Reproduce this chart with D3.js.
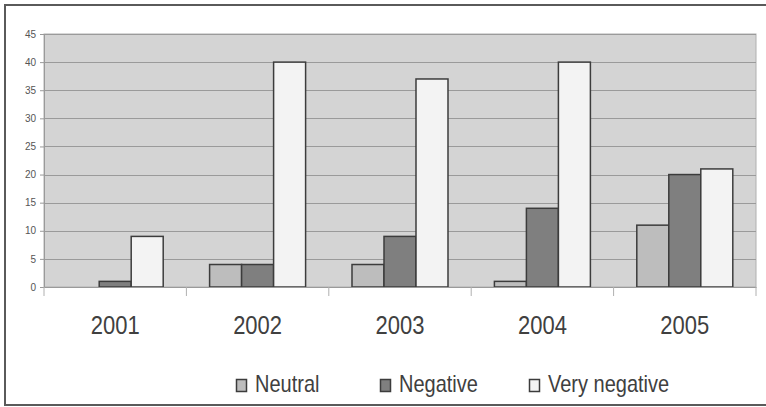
<!DOCTYPE html>
<html><head><meta charset="utf-8">
<script src="https://cdn.jsdelivr.net/npm/d3@7"></script>
<style>html,body{margin:0;padding:0;background:#fff;}svg{display:block;}</style>
</head><body>
<svg id="chart" width="766" height="407"></svg>
<script>
const categories = ["2001","2002","2003","2004","2005"];
const seriesNames = ["Neutral","Negative","Very negative"];
const neutral = [0,4,4,1,11];
const negative = [1,4,9,14,20];
const veryNegative = [9,40,37,40,21];
const yTicks = [0,5,10,15,20,25,30,35,40,45];
const seriesColors = ["#bdbdbd","#7f7f7f","#f3f3f3"];

const seriesValues = [neutral, negative, veryNegative];
const svg = d3.select("#chart");
const font = "'Liberation Sans', Arial, sans-serif";
const textColor = "#404040";

// outer border
svg.append("rect").attr("x",5).attr("y",5).attr("width",770).attr("height",400)
  .attr("fill","#fff").attr("stroke","#5a5a5a").attr("stroke-width",2);

const plot = {left:44, right:756, top:34, bottom:287};
const x = d3.scaleBand().domain(categories).range([plot.left, plot.right]).paddingInner(0).paddingOuter(0);
const bw = 32;
const off = (x.bandwidth() - bw*3)/2;
const x1 = d3.scaleBand().domain(seriesNames).range([off, off + bw*3]);
const y = d3.scaleLinear().domain([0,45]).range([plot.bottom, plot.top]);

// plot background
svg.append("rect").attr("x",plot.left).attr("y",plot.top)
  .attr("width",plot.right-plot.left).attr("height",plot.bottom-plot.top)
  .attr("fill","#d4d4d4").attr("stroke","#b0b0b0").attr("stroke-width",1);

// gridlines
svg.append("g").selectAll("line").data(yTicks.filter(d=>d>0)).join("line")
  .attr("x1",plot.left).attr("x2",plot.right)
  .attr("y1",d=>Math.round(y(d))+0.5).attr("y2",d=>Math.round(y(d))+0.5)
  .attr("stroke","#9a9a9a").attr("stroke-width",1.2);

// y axis
const yAxis = d3.axisLeft(y).tickValues(yTicks).tickSize(4).tickPadding(4);
const yg = svg.append("g").attr("transform",`translate(${plot.left},0)`).call(yAxis);
yg.select(".domain").attr("stroke","#9a9a9a");
yg.selectAll(".tick line").attr("stroke","#9a9a9a");
yg.selectAll(".tick text").attr("fill","#555").style("font-family",font).style("font-size","10px");

// bars
const rows = categories.map((c,i)=>({cat:c, vals: seriesNames.map((s,j)=>({s, j, v: seriesValues[j][i]}))}));
const groups = svg.append("g").selectAll("g").data(rows).join("g")
  .attr("transform",d=>`translate(${x(d.cat)},0)`);
groups.selectAll("rect").data(d=>d.vals.filter(v=>v.v>0)).join("rect")
  .attr("x",d=>x1(d.s)).attr("width",x1.bandwidth())
  .attr("y",d=>y(d.v)).attr("height",d=>y(0)-y(d.v))
  .attr("fill",d=>seriesColors[d.j]).attr("stroke","#3c3c3c").attr("stroke-width",1.5);

// x axis
const xAxis = d3.axisBottom(x).tickSize(0).tickFormat("");
const xg = svg.append("g").attr("transform",`translate(0,${plot.bottom})`).call(xAxis);
xg.select(".domain").attr("stroke","#9a9a9a");
const bounds = categories.map(c=>x(c)).concat([plot.right]);
svg.append("g").selectAll("line").data(bounds).join("line")
  .attr("x1",d=>d).attr("x2",d=>d).attr("y1",plot.bottom).attr("y2",plot.bottom+9)
  .attr("stroke","#b0b0b0").attr("stroke-width",1);

// year labels
svg.append("g").selectAll("text").data(categories).join("text")
  .attr("transform",d=>`translate(${x(d)+x.bandwidth()/2},334) scale(1,1.18)`)
  .attr("text-anchor","middle").attr("fill",textColor)
  .style("font-family",font).style("font-size","22px").text(d=>d);

// legend
const legendX = [236, 380, 529];
const lg = svg.append("g").selectAll("g").data(seriesNames).join("g")
  .attr("transform",(d,i)=>`translate(${legendX[i]},0)`);
lg.append("rect").attr("x",0.5).attr("y",379.5).attr("width",10).attr("height",12)
  .attr("fill",(d,i)=>seriesColors[i]).attr("stroke","#3c3c3c").attr("stroke-width",1.5);
lg.append("text").attr("transform","translate(19,392) scale(1,1.2)")
  .attr("fill",textColor).style("font-family",font).style("font-size","20px").text(d=>d);
</script>
</body></html>
